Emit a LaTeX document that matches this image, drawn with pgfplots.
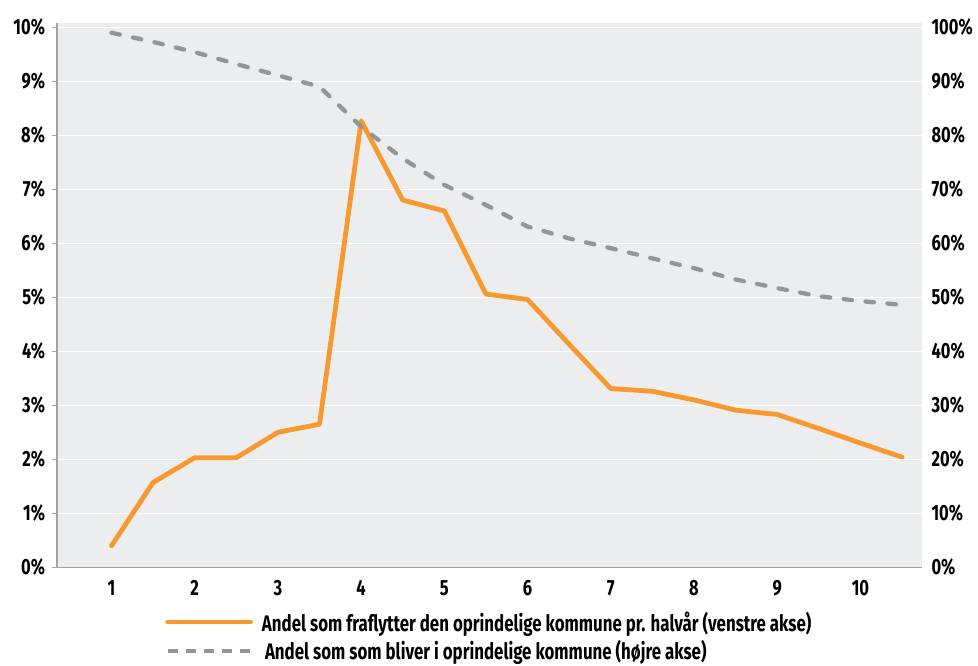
\documentclass[border=0pt]{standalone}
\usepackage{fontspec}
\setmainfont[FakeStretch=0.75]{Fira Sans}
\usepackage{pgfplots}
\usepackage{pgfplotstable}
\pgfplotsset{compat=1.18}
\definecolor{org}{HTML}{F7992E}
\definecolor{gry}{HTML}{939598}
\definecolor{bg}{HTML}{ECEDEF}
\definecolor{axg}{HTML}{A3A3A3}

\pgfplotstableread{
x y
1 0.40
1.5 1.57
2 2.03
2.5 2.03
3 2.50
3.5 2.65
4 8.27
4.5 6.80
5 6.60
5.5 5.06
6 4.96
6.5 4.13
7 3.31
7.5 3.26
8 3.10
8.5 2.91
9 2.83
9.5 2.57
10 2.30
10.5 2.04
}\orangedata

\pgfplotstableread{
x y
1 99.0
1.5 97.3
2 95.4
2.5 93.2
3 91.1
3.5 89.0
4 81.6
4.5 75.7
5 70.8
5.5 67.1
6 63.1
6.5 60.9
7 59.1
7.5 57.2
8 55.4
8.5 53.3
9 51.7
9.5 50.2
10 49.3
10.5 48.6
}\greydata

\begin{document}
\begin{tikzpicture}
\pgfplotsset{
  common/.style={
    scale only axis, width=865pt, height=544.3pt,
    xmin=0.345, xmax=10.74,
    /pgf/number format/assume math mode=true,
    ticklabel style={font=\fontsize{22}{22}\selectfont\bfseries},
  }
}
\begin{axis}[common,
  ymin=0, ymax=10.08,
  axis background/.style={fill=bg},
  axis y line*=left, axis x line*=bottom,
  axis line style={axg, line width=1.3pt},
  ytick={0,1,...,10},
  yticklabel={\pgfmathprintnumber{\tick}\%},
  xtick={1,2,...,10},
  xtick style={draw=none},
  extra x ticks={0.345},
  extra x tick labels={},
  extra x tick style={tick style={draw=axg, line width=1.3pt}},
  ytick style={axg, line width=1.3pt},
  tick align=outside, major tick length=5.5pt,
  ymajorgrids, major grid style={white, line width=1.2pt},
  yticklabel style={xshift=-3pt},
  xticklabel style={yshift=-4pt},
  legend style={at={(rel axis cs:0,0)}, anchor=north west, xshift=108pt, yshift=-42pt,
    draw=none, fill=none, inner sep=0pt, row sep=4pt,
    font=\fontsize{22.5}{22.5}\selectfont\bfseries,
    nodes={inner sep=2pt, anchor=west}},
  legend cell align=left,
  legend image code/.code={\draw[#1] (0pt,0pt) -- (83pt,0pt);},
]
\addplot[org, line width=4.8pt, line join=round, line cap=round] table[x=x,y=y] {\orangedata};
\addlegendentry{\hspace{7pt}Andel som fraflytter den oprindelige kommune pr. halvår (venstre akse)}
\addlegendimage{gry, line width=4pt, dash pattern=on 10pt off 8pt}
\addlegendentry{\hspace{10pt}Andel som som bliver i oprindelige kommune (højre akse)}
\end{axis}
\begin{axis}[common,
  ymin=0, ymax=100.8,
  axis x line=none, axis y line*=right,
  y axis line style={draw=none},
  ytick={0,10,...,100},
  ytick style={draw=none},
  yticklabel={\pgfmathprintnumber{\tick}\%},
  yticklabel style={xshift=6pt},
]
\addplot[gry, line width=4.3pt, line cap=round, line join=round, dash pattern=on 8.5pt off 13.5pt] table[x=x,y=y] {\greydata};
\end{axis}
\pgfresetboundingbox
\path (-57pt,-98.7pt) rectangle (921pt,567.3pt);
\end{tikzpicture}
\end{document}
